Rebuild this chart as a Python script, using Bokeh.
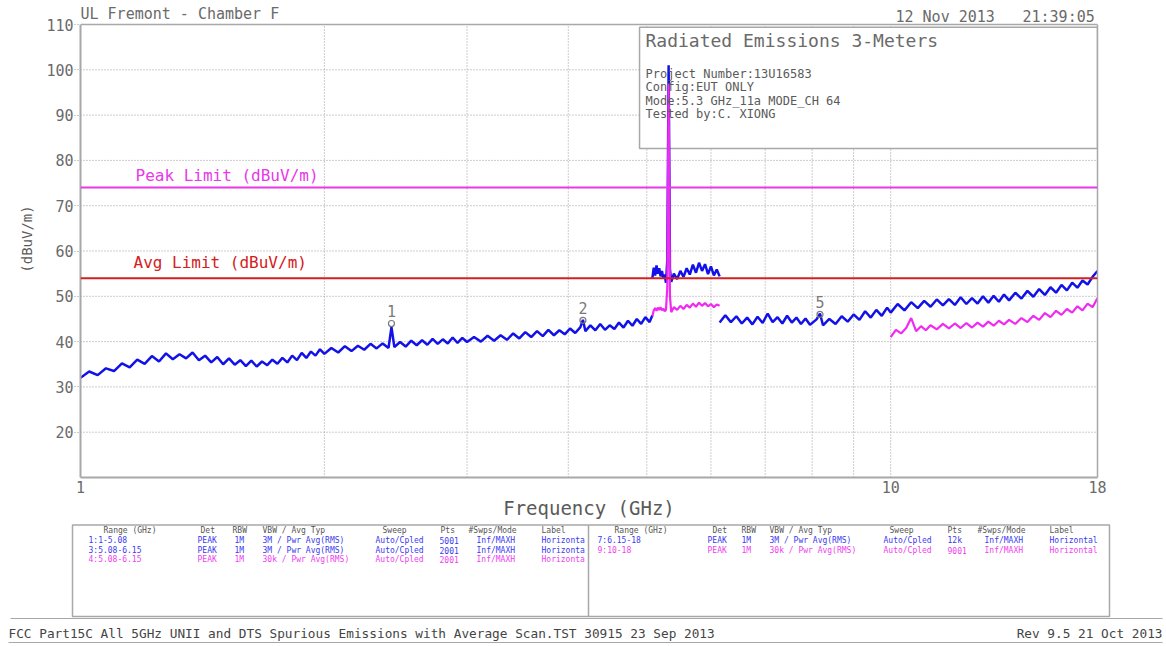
from bokeh.plotting import figure
from bokeh.models import (Range1d, FixedTicker, Label, Span, PrintfTickFormatter,
                          ColumnDataSource, LinearAxis)
from bokeh.layouts import column
from bokeh.embed import file_html
from bokeh.resources import INLINE
from bokeh.core.properties import value

# ---------------- data ----------------
x_lo, x_hi = 1, 18
y_lo, y_hi = 10, 110
x_ticks = [1, 10, 18]
x_grid = [2, 3, 4, 5, 6, 7, 8, 9, 10]
y_ticks = [20, 30, 40, 50, 60, 70, 80, 90, 100, 110]
y_grid = [20, 30, 40, 50, 60, 70, 80, 90, 100]

peak_limit = 74
avg_limit = 54

# trace 1: 1-5.08 GHz, peak (blue)
seg1_freq = [1.000, 1.025, 1.050, 1.075, 1.100, 1.125, 1.150, 1.175, 1.200, 1.225,
             1.250, 1.275, 1.300, 1.325, 1.350, 1.375, 1.400, 1.425, 1.450, 1.475,
             1.500, 1.525, 1.550, 1.575, 1.600, 1.625, 1.650, 1.675, 1.700, 1.725,
             1.750, 1.775, 1.800, 1.825, 1.850, 1.875, 1.900, 1.925, 1.950, 1.975,
             2.00, 2.04, 2.08, 2.12, 2.16, 2.20, 2.24, 2.28, 2.32, 2.36,
             2.40, 2.42, 2.44, 2.48, 2.52, 2.56, 2.60, 2.64, 2.68, 2.72,
             2.76, 2.80, 2.84, 2.88, 2.92, 2.96,
             3.00, 3.06, 3.12, 3.18, 3.24, 3.30, 3.36, 3.42, 3.48, 3.54,
             3.60, 3.66, 3.72, 3.78, 3.84, 3.90, 3.96, 4.02, 4.08, 4.14,
             4.17, 4.20, 4.26, 4.32, 4.38, 4.44, 4.50, 4.56, 4.62, 4.68,
             4.74, 4.80, 4.86, 4.92, 4.98, 5.04, 5.08]
seg1_level = [32.0, 33.4, 32.6, 34.1, 33.5, 35.2, 34.3, 36.0, 35.1, 36.8,
              35.6, 37.4, 36.1, 37.2, 36.3, 37.6, 35.9, 36.9, 35.4, 36.6,
              35.0, 36.3, 34.9, 35.9, 34.6, 35.8, 34.5, 35.6, 34.8, 36.0,
              35.1, 36.4, 35.4, 36.9, 35.9, 37.5, 36.4, 37.8, 36.9, 38.3,
              37.3, 38.6, 37.6, 39.0, 37.9, 39.1, 38.2, 39.5, 38.5, 39.6,
              38.6, 43.2, 38.8, 39.9, 38.9, 40.2, 39.2, 40.3, 39.3, 40.6,
              39.5, 40.5, 39.6, 40.9, 39.7, 40.8,
              39.9, 41.0, 40.0, 41.3, 40.2, 41.4, 40.4, 41.8, 40.7, 42.1,
              41.0, 42.3, 41.2, 42.6, 41.4, 42.5, 41.6, 42.9, 41.9, 43.2,
              44.8, 42.3, 43.6, 42.5, 43.9, 42.6, 43.6, 42.8, 44.2, 43.1,
              44.6, 43.5, 45.0, 43.9, 45.4, 44.3, 45.8]

# trace 3: 5.08-6.15 GHz, peak (blue)
seg3_freq = [5.08, 5.10, 5.12, 5.14, 5.16, 5.18, 5.20, 5.22, 5.24, 5.26,
             5.28, 5.30, 5.31, 5.32, 5.33, 5.34, 5.36, 5.40, 5.45, 5.50,
             5.55, 5.60, 5.65, 5.70, 5.75, 5.80, 5.85, 5.90, 5.95, 6.00,
             6.05, 6.10, 6.15]
seg3_level = [54.0, 56.3, 54.6, 56.8, 55.0, 56.2, 54.4, 55.6, 54.0, 54.8,
              53.0, 58.0, 79.0, 101.0, 80.0, 56.0, 53.2, 55.0, 53.8, 55.6,
              54.3, 56.2, 54.8, 57.0, 55.2, 57.4, 55.6, 57.1, 54.9, 56.6,
              54.6, 55.9, 54.4]

# trace 4: 5.08-6.15 GHz, average (magenta)
seg4_freq = [5.08, 5.10, 5.12, 5.14, 5.16, 5.18, 5.20, 5.22, 5.24, 5.26,
             5.28, 5.30, 5.31, 5.32, 5.33, 5.34, 5.36, 5.40, 5.45, 5.50,
             5.55, 5.60, 5.65, 5.70, 5.75, 5.80, 5.85, 5.90, 5.95, 6.00,
             6.05, 6.10, 6.15]
seg4_level = [45.6, 46.9, 47.4, 46.8, 47.5, 47.0, 47.6, 46.9, 47.3, 46.7,
              47.0, 52.0, 75.0, 97.0, 72.0, 50.0, 46.5, 47.6, 47.0, 47.9,
              47.2, 48.1, 47.5, 48.4, 47.7, 48.6, 47.9, 48.5, 47.8, 48.3,
              47.6, 48.2, 47.9]

# trace 7: 6.15-18 GHz, peak (blue)
seg7_freq = [6.15, 6.25, 6.35, 6.45, 6.55, 6.65, 6.75, 6.85, 6.95, 7.05,
             7.15, 7.25, 7.35, 7.45, 7.55, 7.65, 7.75, 7.85, 7.95, 8.10,
             8.18, 8.25, 8.40, 8.55, 8.70, 8.85, 9.00, 9.15, 9.30, 9.45,
             9.60, 9.75, 9.90, 10.0, 10.2, 10.4, 10.6, 10.8, 11.0, 11.2,
             11.4, 11.6, 11.8, 12.0, 12.2, 12.4, 12.6, 12.8, 13.0, 13.2,
             13.4, 13.6, 13.8, 14.0, 14.25, 14.5, 14.75, 15.0, 15.25, 15.5,
             15.75, 16.0, 16.25, 16.5, 16.75, 17.0, 17.25, 17.5, 17.75, 18.0]
seg7_level = [44.2, 45.8, 44.3, 45.6, 44.0, 45.3, 43.8, 45.5, 44.1, 46.2,
              44.3, 45.4, 44.0, 45.7, 44.2, 45.3, 43.9, 45.1, 43.7, 44.9,
              46.2, 43.6, 45.0, 43.9, 45.6, 44.4, 46.0, 44.8, 46.7, 45.3,
              47.0, 45.7, 47.5, 46.4, 48.3, 46.9, 48.7, 47.4, 49.0, 47.7,
              49.3, 48.0, 49.4, 48.1, 49.8, 48.3, 49.6, 48.4, 50.0, 48.6,
              50.1, 48.8, 50.4, 49.1, 50.8, 49.5, 51.2, 49.9, 51.6, 50.3,
              52.0, 50.8, 52.5, 51.3, 53.0, 51.9, 53.5, 52.6, 54.3, 55.6]

# trace 9: 10-18 GHz, average (magenta)
seg9_freq = [10.0, 10.15, 10.3, 10.45, 10.6, 10.75, 10.9, 11.05, 11.2, 11.4,
             11.6, 11.8, 12.0, 12.2, 12.4, 12.6, 12.8, 13.0, 13.2, 13.4,
             13.6, 13.8, 14.0, 14.25, 14.5, 14.75, 15.0, 15.25, 15.5, 15.75,
             16.0, 16.25, 16.5, 16.75, 17.0, 17.25, 17.5, 17.75, 18.0]
seg9_level = [41.0, 42.6, 41.8, 43.0, 45.2, 42.3, 43.4, 42.5, 43.6, 42.7,
              43.9, 42.9, 44.0, 43.0, 44.1, 43.1, 44.2, 43.3, 44.4, 43.5,
              44.6, 43.8, 44.8, 43.9, 45.2, 44.3, 45.7, 44.8, 46.3, 45.4,
              46.8, 45.9, 47.2, 46.4, 47.8, 46.9, 48.4, 47.6, 49.6]

marker_freq = [2.42, 4.17, 8.18]
marker_level = [44.0, 44.7, 46.0]
marker_label = ["1", "2", "5"]

header_left = "UL Fremont - Chamber F"
header_date = "12 Nov 2013"
header_time = "21:39:05"
info_title = "Radiated Emissions 3-Meters"
info_lines = ["Project Number:13U16583", "Config:EUT ONLY",
              "Mode:5.3 GHz_11a MODE_CH 64", "Tested by:C. XIONG"]
peak_limit_label = "Peak Limit (dBuV/m)"
avg_limit_label = "Avg Limit (dBuV/m)"
x_label = "Frequency (GHz)"
y_label = "(dBuV/m)"

table_headers = ["Range (GHz)", "Det", "RBW", "VBW / Avg Typ", "Sweep", "Pts", "#Swps/Mode", "Label"]
left_rows = [
    ["1:1-5.08", "3:5.08-6.15", "4:5.08-6.15"],
    ["PEAK", "PEAK", "PEAK"],
    ["1M", "1M", "1M"],
    ["3M / Pwr Avg(RMS)", "3M / Pwr Avg(RMS)", "30k / Pwr Avg(RMS)"],
    ["Auto/Cpled", "Auto/Cpled", "Auto/Cpled"],
    ["5001", "2001", "2001"],
    ["Inf/MAXH", "Inf/MAXH", "Inf/MAXH"],
    ["Horizonta", "Horizonta", "Horizonta"],
]
left_kinds = ["peak", "peak", "avg"]
right_rows = [
    ["7:6.15-18", "9:10-18"],
    ["PEAK", "PEAK"],
    ["1M", "1M"],
    ["3M / Pwr Avg(RMS)", "30k / Pwr Avg(RMS)"],
    ["Auto/Cpled", "Auto/Cpled"],
    ["12k", "9001"],
    ["Inf/MAXH", "Inf/MAXH"],
    ["Horizontal", "Horizontal"],
]
right_kinds = ["peak", "avg"]
footer_left = "FCC Part15C All 5GHz UNII and DTS Spurious Emissions with Average Scan.TST 30915 23 Sep 2013"
footer_right = "Rev 9.5 21 Oct 2013"

# ---------------- styling ----------------
FONT = "DejaVu Sans Mono"
BLUE = "#1212e8"
MAGENTA = "#f02af0"
PEAK_COL = "#e838e8"
RED = "#d42020"
GRAY_TXT = "#6a6a6a"
GRAY_LINE = "#a8a8a8"
GRID_COL = "#9a9a9a"
kind_color = {"peak": "#3a3af0", "avg": "#f040f0"}

# layout (pixels): chart frame 80..1097 x 24..477, frame extended up to the canvas top
FRAME_TOP_PAD = 24
PLOT_H = 453
y_top = y_hi + FRAME_TOP_PAD * (y_hi - y_lo) / PLOT_H

p = figure(width=1164, height=523, x_axis_type="log",
           x_range=Range1d(x_lo, x_hi), y_range=Range1d(y_lo, y_top),
           output_backend="svg", toolbar_location=None,
           min_border_left=80, min_border_right=67, min_border_top=0, min_border_bottom=46)
p.frame_align = False
p.background_fill_color = "white"
p.border_fill_color = "white"
p.outline_line_color = None
p.grid.visible = False

p.xaxis.ticker = FixedTicker(ticks=x_ticks)
p.xaxis.formatter = PrintfTickFormatter(format="%d")
p.yaxis.ticker = FixedTicker(ticks=y_ticks)
p.yaxis.bounds = (y_lo, y_hi)
for ax in (p.xaxis, p.yaxis):
    ax.axis_line_color = GRAY_LINE
    ax.axis_line_width = 2
    ax.minor_tick_line_color = None
    ax.major_label_text_font = FONT
    ax.major_label_text_font_size = "15px"
    ax.major_label_text_color = GRAY_TXT
    ax.axis_label_text_font = FONT
    ax.axis_label_text_font_style = "normal"
    ax.axis_label_text_color = "#5a5a5a"
p.xaxis.major_tick_out = 0
p.xaxis.major_tick_in = 0
p.xaxis.major_label_standoff = 3
p.xaxis.axis_label = x_label
p.xaxis.axis_label_text_font_size = "19px"
p.xaxis.axis_label_standoff = 1
p.yaxis.major_tick_in = 0
p.yaxis.major_tick_out = 6
p.yaxis.major_tick_line_color = GRID_COL
p.yaxis.major_tick_line_dash = "1 2"
p.yaxis.major_label_standoff = 1
p.yaxis.axis_label = y_label
p.yaxis.axis_label_text_font_size = "14px"
p.yaxis.axis_label_standoff = 8

right_ax = LinearAxis(bounds=(y_lo, y_hi), ticker=FixedTicker(ticks=[]),
                      axis_line_color=GRAY_LINE, axis_line_width=1.5,
                      major_tick_line_color=None, minor_tick_line_color=None,
                      major_label_text_font_size="0px")
p.add_layout(right_ax, "right")
p.add_layout(Span(location=y_hi, dimension="width", line_color=GRAY_LINE, line_width=1.5))

# dotted grid inside the chart area
p.segment(x0=x_grid, y0=[y_lo] * len(x_grid), x1=x_grid, y1=[y_hi] * len(x_grid),
          line_color=GRID_COL, line_dash="1 2", line_width=1)
p.segment(x0=[x_lo] * len(y_grid), y0=y_grid, x1=[x_hi] * len(y_grid), y1=y_grid,
          line_color=GRID_COL, line_dash="1 2", line_width=1)

# info box (white, hides grid) below the traces
p.quad(left=4.898, right=x_hi, bottom=82.6, top=109.4, fill_color="white",
       line_color=GRAY_LINE, line_width=1.5)

p.add_layout(Span(location=peak_limit, dimension="width", line_color=PEAK_COL, line_width=2))
p.add_layout(Span(location=avg_limit, dimension="width", line_color=RED, line_width=2))

p.line(seg1_freq, seg1_level, line_color=BLUE, line_width=2.5)
p.line(seg3_freq, seg3_level, line_color=BLUE, line_width=2.5)
p.line(seg7_freq, seg7_level, line_color=BLUE, line_width=2.5)
p.line(seg4_freq, seg4_level, line_color=MAGENTA, line_width=2.2)
p.line(seg9_freq, seg9_level, line_color=MAGENTA, line_width=2.2)

p.scatter(marker_freq, marker_level, marker="circle", size=6, fill_color=None,
          line_color="#7a7a7a", line_width=1.2)
p.text(marker_freq, marker_level, text=marker_label, y_offset=-12,
       text_align="center", text_baseline="middle", text_font=value(FONT),
       text_font_size="15px", text_color="#7a7a7a")


def lab(fig, text, sx, sy, size, color, align="left"):
    fig.add_layout(Label(x=sx, y=sy, x_units="screen", y_units="screen", text=text,
                         text_font=FONT, text_font_size=size, text_color=color,
                         text_align=align, text_baseline="middle"))


# labels inside the frame (screen units: x from frame left, y up from frame bottom)
lab(p, header_left, 0, 464, "15px", GRAY_TXT)
lab(p, header_date, 815, 461, "15px", GRAY_TXT)
lab(p, header_time, 942, 461, "15px", GRAY_TXT)
lab(p, info_title, 565, 437, "18px", GRAY_TXT)
for i, line in enumerate(info_lines):
    lab(p, line, 565, 404 - 13.5 * i, "12px", "#5a5a5a")
lab(p, peak_limit_label, 55, 302, "16px", PEAK_COL)
lab(p, avg_limit_label, 53, 215, "16px", RED)

# ---------------- table figure (page pixel coordinates) ----------------
t = figure(width=1164, height=121, x_range=Range1d(0, 1164), y_range=Range1d(644, 523),
           x_axis_type=None, y_axis_type=None, output_backend="svg", toolbar_location=None,
           min_border_left=0, min_border_right=0, min_border_top=0, min_border_bottom=0)
t.frame_align = False
t.outline_line_color = None
t.background_fill_color = "white"
t.border_fill_color = "white"

t.quad(left=72, right=1109, top=524.5, bottom=616, fill_color=None, line_color=GRAY_LINE, line_width=1.5)
t.segment(x0=[588], y0=[524.5], x1=[588], y1=[616], line_color=GRAY_LINE, line_width=1.5)
t.segment(x0=[10, 8], y0=[618, 642], x1=[1162, 1162], y1=[618, 642], line_color=GRAY_LINE, line_width=1)

left_head_x = [103, 200, 232, 262, 382, 440, 468, 541]
left_val_x = [88, 197, 234, 262, 375, 439, 476, 541]
right_head_x = [614, 712, 741, 769, 889, 947, 977, 1049]
right_val_x = [597, 707, 741, 769, 883, 947, 984, 1049]
head_y = 530
row_y = [540, 549.5, 559]


def table_text(xs, ys, texts, colors, size="8px", align="left"):
    src = ColumnDataSource(dict(x=xs, y=ys, text=texts, color=colors))
    t.text(x="x", y="y", text="text", text_color="color", source=src,
           text_font=value(FONT), text_font_size=size, text_baseline="middle",
           text_align=align)


for hx_list in (left_head_x, right_head_x):
    table_text(hx_list, [head_y] * len(hx_list), table_headers, ["#555555"] * len(hx_list))

for rows, kinds, xs in ((left_rows, left_kinds, left_val_x), (right_rows, right_kinds, right_val_x)):
    n = len(kinds)
    cols = [kind_color[k] for k in kinds]
    for ci, col in enumerate(rows):
        table_text([xs[ci]] * n, row_y[:n], col, cols)

table_text([8], [633], [footer_left], ["#444444"], size="12.75px")
table_text([1162], [633], [footer_right], ["#444444"], size="12.75px", align="right")

layout = column(p, t, spacing=0)
open("out.html", "w").write(file_html(layout, INLINE))
